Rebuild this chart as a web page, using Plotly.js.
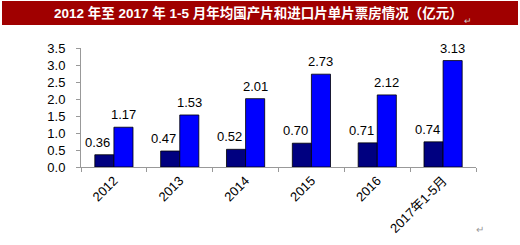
<!DOCTYPE html>
<html>
<head>
<meta charset="utf-8">
<script src="https://cdn.plot.ly/plotly-3.0.1.min.js"></script>
<style>html,body{margin:0;padding:0;background:#fff;}#chart{width:520px;height:245px;}</style>
</head>
<body>
<div id="chart"></div>
<script>
var categories = ["2012", "2013", "2014", "2015", "2016", "2017年1-5月"];
var domesticValues = [0.36, 0.47, 0.52, 0.70, 0.71, 0.74];
var importValues = [1.17, 1.53, 2.01, 2.73, 2.12, 3.13];
var yTickValues = [0, 0.5, 1.0, 1.5, 2.0, 2.5, 3.0, 3.5];
var yTickLabels = ["0.0", "0.5", "1.0", "1.5", "2.0", "2.5", "3.0", "3.5"];
var titleText = "2012 年至 2017 年 1-5 月年均国产片和进口片单片票房情况（亿元）";

var fontFam = "Liberation Sans, Arial, Noto Sans CJK SC, sans-serif";

var traces = [
  {
    type: "bar", name: "国产片", x: categories, y: domesticValues,
    marker: {color: "#000080", line: {color: "#000000", width: 0.8}},
    hoverinfo: "none"
  },
  {
    type: "bar", name: "进口片", x: categories, y: importValues,
    marker: {color: "#0000FF", line: {color: "#000000", width: 0.8}},
    hoverinfo: "none"
  }
];

var annotations = [
  {xref: "paper", yref: "paper", x: (486 - 81) / 395, y: (167 - 237) / 119,
   text: "↵", showarrow: false, font: {size: 10, color: "#999"}},
  {xref: "paper", yref: "paper", x: (474 - 81) / 395, y: (167 - 14) / 119,
   text: "↵", showarrow: false, font: {size: 9, color: "#ccc"}}
];
categories.forEach(function(c, i) {
  annotations.push({x: i, y: domesticValues[i], xref: "x", yref: "y",
    text: domesticValues[i].toFixed(2), showarrow: false,
    yanchor: "bottom", xshift: -16, yshift: 3,
    font: {family: fontFam, size: 13, color: "#000"}});
  annotations.push({x: i, y: importValues[i], xref: "x", yref: "y",
    text: importValues[i].toFixed(2), showarrow: false,
    yanchor: "bottom", xshift: 9.5, yshift: 3,
    font: {family: fontFam, size: 13, color: "#000"}});
});

var layout = {
  width: 520, height: 245,
  margin: {l: 81, r: 44, t: 48, b: 78},
  paper_bgcolor: "#fff", plot_bgcolor: "#fff",
  showlegend: false,
  barmode: "group", bargap: 0.42, bargroupgap: 0,
  font: {family: fontFam, size: 11, color: "#000"},
  title: {
    text: "<b>" + titleText + "</b>",
    x: 0.497, xref: "container", xanchor: "center",
    y: 1 - 13 / 245, yref: "container", yanchor: "middle",
    font: {family: fontFam, size: 13.5, color: "#fff"}
  },
  shapes: [
    {type: "rect", xref: "paper", yref: "paper",
     x0: (2 - 81) / 395, x1: (518 - 81) / 395,
     y0: (167 - 25) / 119, y1: (167 - 1) / 119,
     fillcolor: "#A00000", line: {width: 0}, layer: "below"}
  ],
  annotations: annotations,
  xaxis: {
    type: "category",
    range: [-0.5, categories.length - 0.5],
    showline: true, linecolor: "#999", linewidth: 1,
    ticks: "outside", ticklen: 4, tickcolor: "#999",
    tickson: "boundaries",
    tickangle: -45,
    tickfont: {family: fontFam, size: 13, color: "#000"},
    showgrid: false, zeroline: false
  },
  yaxis: {
    range: [0, 3.5],
    tickvals: yTickValues, ticktext: yTickLabels,
    showline: true, linecolor: "#999", linewidth: 1,
    ticks: "outside", ticklen: 4, tickcolor: "#999",
    ticklabelstandoff: 8,
    tickfont: {family: fontFam, size: 13, color: "#000"},
    showgrid: false, zeroline: false
  }
};

Plotly.newPlot("chart", traces, layout, {displayModeBar: false, staticPlot: true});
</script>
</body>
</html>
